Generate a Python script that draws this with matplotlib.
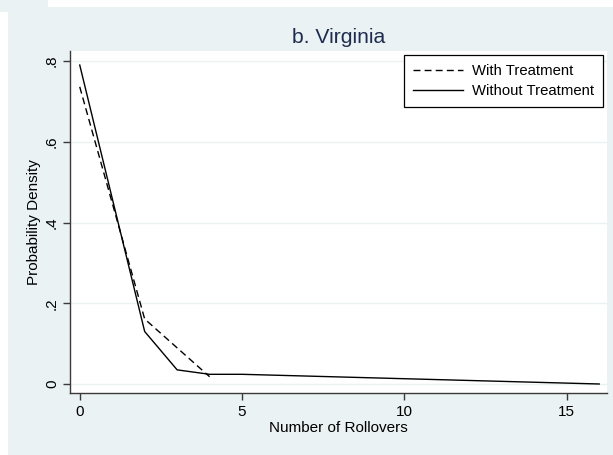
import matplotlib
matplotlib.use("Agg")
import matplotlib.pyplot as plt
from matplotlib.patches import Rectangle

# values
rollovers_with = [0, 2, 4]
density_with = [0.736, 0.161, 0.018]

rollovers_without = [0, 2, 3, 4, 5, 16]
density_without = [0.790, 0.130, 0.035, 0.024, 0.024, 0.0]

x_ticks = [0, 5, 10, 15]
y_ticks = [0, 0.2, 0.4, 0.6, 0.8]
y_tick_labels = ["0", ".2", ".4", ".6", ".8"]

title = "b. Virginia"
x_label = "Number of Rollovers"
y_label = "Probability Density"
legend_labels = ["With Treatment", "Without Treatment"]

PANEL = "#EAF2F3"
TITLE_COLOR = "#1E2D4F"
AXIS_COLOR = "#3A3A3A"

plt.rcParams["font.family"] = ["Liberation Sans", "DejaVu Sans"]

W, H = 613, 455
fig = plt.figure(figsize=(W / 100, H / 100), dpi=100)
fig.patch.set_facecolor("white")

# outer graph region and the little block at top left
fig.add_artist(Rectangle((8 / W, 0), 1 - 8 / W, (H - 7) / H,
                         transform=fig.transFigure, facecolor=PANEL,
                         edgecolor="none", zorder=-10))
fig.add_artist(Rectangle((0, (H - 12) / H), 48 / W, 12 / H,
                         transform=fig.transFigure, facecolor=PANEL,
                         edgecolor="none", zorder=-10))

ax = fig.add_axes([70 / W, (H - 393) / H, 537 / W, 342 / H])
ax.set_facecolor("white")

ax.plot(rollovers_with, density_with, color="black", lw=1.0,
        ls=(0, (5, 3)), label=legend_labels[0])
ax.plot(rollovers_without, density_without, color="black", lw=1.0,
        label=legend_labels[1])

ax.set_xlim(-0.3, 16.24)
ax.set_ylim(-0.0223, 0.8248)

ax.set_xticks(x_ticks)
ax.set_yticks(y_ticks)
ax.set_yticklabels(y_tick_labels, rotation=90, va="center")

ax.grid(axis="y", color=PANEL, lw=1.0)
ax.set_axisbelow(True)

for side in ("top", "right"):
    ax.spines[side].set_visible(False)
for side in ("left", "bottom"):
    ax.spines[side].set_color(AXIS_COLOR)
    ax.spines[side].set_linewidth(1.0)

ax.tick_params(axis="both", colors=AXIS_COLOR, length=5, width=1.0,
               labelsize=11, labelcolor="black")
ax.tick_params(axis="x", pad=4)
ax.tick_params(axis="y", pad=3)

ax.set_xlabel(x_label, fontsize=11, labelpad=1)
ax.set_ylabel(y_label, fontsize=11, labelpad=3)
ax.set_title(title, fontsize=15.2, color=TITLE_COLOR, pad=6)

leg = ax.legend(loc="upper right", bbox_to_anchor=(0.9926, 0.988),
                fontsize=10.7, frameon=True, fancybox=False,
                handlelength=3.4, handletextpad=0.6, borderpad=0.6,
                labelspacing=0.42, borderaxespad=0)
leg.get_frame().set_edgecolor("black")
leg.get_frame().set_linewidth(0.9)
leg.get_frame().set_facecolor("white")
leg.get_frame().set_alpha(1)

fig.savefig("out.png", dpi=100)
